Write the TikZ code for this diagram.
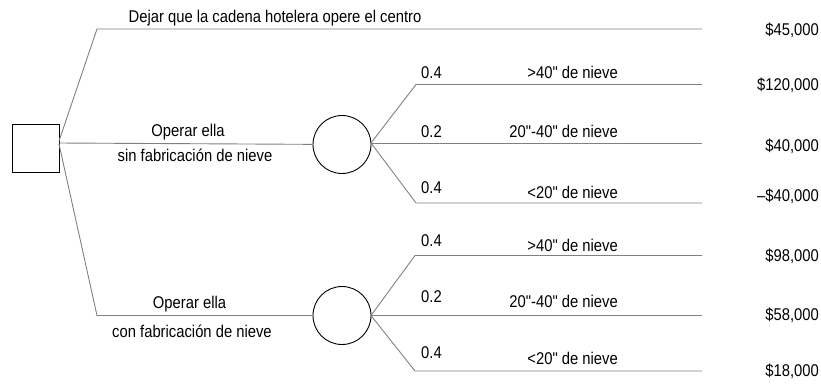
\documentclass[tikz,border=0pt]{standalone}
\usepackage{fontspec}
\setmainfont{Liberation Sans}[FakeStretch=0.87, Ligatures=TeXOff]
\begin{document}
\begin{tikzpicture}[x=1pt,y=-1pt,
  branch/.style={draw=black!50, line width=0.9pt},
  txt/.style={font=\fontsize{17}{19}\selectfont, inner sep=0pt},
  lbl/.style={txt, anchor=base},
  prob/.style={txt, anchor=base west},
  evt/.style={txt, anchor=base east},
  val/.style={txt, anchor=base east},
  decision/.style={draw=black, line width=0.9pt, rectangle, minimum width=47pt, minimum height=48pt, inner sep=0pt},
  chance/.style={draw=black, line width=0.9pt, circle, minimum size=58pt, inner sep=0pt}]
\useasboundingbox (0,0) rectangle (821,384);
% nodes
\node[decision] (sq) at (35.5,148) {};
\node[chance] (c1) at (342,144.5) {};
\node[chance] (c2) at (342,315.5) {};
% coordinates
\coordinate (sqt) at (59,141);
\coordinate (sqm) at (59,143);
\coordinate (sqb) at (59,144);
\coordinate (ta) at (97,29);
\coordinate (te) at (702,29);
\coordinate (ba) at (97,315.5);
\coordinate (c1e) at (371,143);
\coordinate (c1ua) at (416,84.5);
\coordinate (c1ue) at (702,84.5);
\coordinate (c1me) at (702,143);
\coordinate (c1da) at (416,203);
\coordinate (c1de) at (702,203);
\coordinate (c2e) at (371,315.5);
\coordinate (c2ua) at (415,255.5);
\coordinate (c2ue) at (702,255.5);
\coordinate (c2me) at (702,315.5);
\coordinate (c2da) at (415,371);
\coordinate (c2de) at (702,371);
% connectors
\draw[branch] (sqt) -- (ta) -- (te);
\draw[branch] (sqm) -- (c1);
\draw[branch] (sqb) -- (ba) -- (c2);
\draw[branch] (c1e) -- (c1ua) -- (c1ue);
\draw[branch] (c1e) -- (c1me);
\draw[branch] (c1e) -- (c1da) -- (c1de);
\draw[branch] (c2e) -- (c2ua) -- (c2ue);
\draw[branch] (c2e) -- (c2me);
\draw[branch] (c2e) -- (c2da) -- (c2de);
% labels
\node[lbl] (t0) at (275,22.7) {Dejar que la cadena hotelera opere el centro};
\node[lbl] (t1a) at (188,136.7) {Operar ella};
\node[lbl] (t1b) at (195,161.7) {sin fabricación de nieve};
\node[lbl] (t2a) at (189.5,308) {Operar ella};
\node[lbl] (t2b) at (192,337) {con fabricación de nieve};
\node[prob] (p1) at (421,78.3) {0.4};
\node[prob] (p2) at (421,137.7) {0.2};
\node[prob] (p3) at (421,193.3) {0.4};
\node[prob] (p4) at (421,246) {0.4};
\node[prob] (p5) at (421,302.7) {0.2};
\node[prob] (p6) at (421,358.3) {0.4};
\node[evt] (e1) at (618,78.3) {>40" de nieve};
\node[evt] (e2) at (618,137.7) {20"-40" de nieve};
\node[evt] (e3) at (618,198) {<20" de nieve};
\node[evt] (e4) at (618,251.5) {>40" de nieve};
\node[evt] (e5) at (618,307.7) {20"-40" de nieve};
\node[evt] (e6) at (618,364) {<20" de nieve};
\node[val] (v0) at (819,35) {\$45,000};
\node[val] (v1) at (819,90.5) {\$120,000};
\node[val] (v2) at (819,151.5) {\$40,000};
\node[val] (v3) at (819,201.5) {\textendash\$40,000};
\node[val] (v4) at (819,261.5) {\$98,000};
\node[val] (v5) at (819,320) {\$58,000};
\node[val] (v6) at (819,376.5) {\$18,000};
\end{tikzpicture}
\end{document}
